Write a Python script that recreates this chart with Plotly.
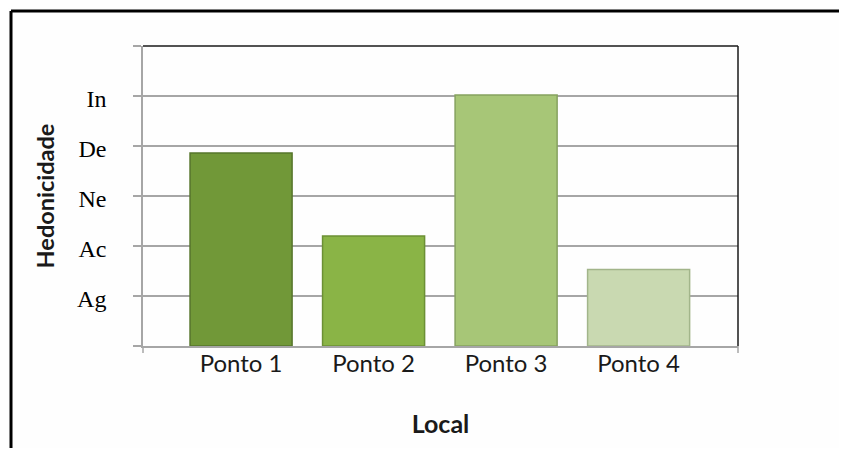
import plotly.graph_objects as go

categories = ["Ponto 1", "Ponto 2", "Ponto 3", "Ponto 4"]
values = [3.86, 2.2, 5.02, 1.53]
tick_values = [0, 1, 2, 3, 4, 5, 6]
tick_labels = ["", "Ag", "Ac", "Ne", "De", "In", ""]
bar_colors = ["#719838", "#8ab446", "#a7c677", "#c9d9b1"]
edge_colors = ["#56752b", "#6c9035", "#86a25f", "#a2b58a"]

OFF = 8  # default page body margin
W, H = 847 - 2 * OFF, 456 - 2 * OFF
# plot-area edges in page pixels
L, R, T, B = 143, 738, 46, 346
pw, ph = R - L, B - T

def px(x):
    return (x - L) / pw

def py(y):
    return (B - y) / ph

fig = go.Figure()
fig.add_trace(go.Bar(
    x=categories, y=values, width=0.77,
    marker=dict(color=bar_colors, line=dict(color=edge_colors, width=1.5)),
    showlegend=False, hoverinfo="x+y",
))

shapes = [
    dict(type="line", xref="paper", yref="paper", x0=0, x1=1, y0=1, y1=1,
         line=dict(color="#1a1a1a", width=1.5)),
    dict(type="line", xref="paper", yref="paper", x0=1, x1=1, y0=0, y1=1,
         line=dict(color="#1a1a1a", width=1.5)),
    dict(type="line", xref="paper", yref="paper", x0=0, x1=0, y0=0, y1=py(353),
         line=dict(color="#a6a6a6", width=1.5)),
    dict(type="line", xref="paper", yref="paper", x0=1, x1=1, y0=0, y1=py(353),
         line=dict(color="#a6a6a6", width=1.5)),
    dict(type="line", xref="paper", yref="paper", x0=px(11), x1=px(11), y0=py(11), y1=py(480),
         line=dict(color="black", width=3)),
    dict(type="line", xref="paper", yref="paper", x0=px(11), x1=px(880), y0=py(11), y1=py(11),
         line=dict(color="black", width=3)),
]

fig.update_layout(
    width=W, height=H,
    margin=dict(l=L - OFF, r=(OFF + W) - R, t=T - OFF, b=(OFF + H) - B),
    paper_bgcolor="#fefefe", plot_bgcolor="#fefefe",
    shapes=shapes,
    xaxis=dict(
        range=[-0.74, 3.75], showgrid=False, zeroline=False,
        showline=True, linecolor="#a6a6a6", linewidth=1.5,
        ticks="", ticklabelstandoff=-5,
        tickfont=dict(family="Lato", size=24, color="#1a1a1a"),
        title=dict(text="<b>Local</b>", font=dict(family="Lato", size=25, color="#1a1a1a"), standoff=40),
        fixedrange=True,
    ),
    yaxis=dict(
        range=[0, 6], tickvals=tick_values, ticktext=tick_labels,
        showgrid=True, gridcolor="#a6a6a6", gridwidth=1.5, zeroline=False,
        showline=True, linecolor="#a6a6a6", linewidth=1.5,
        ticks="outside", ticklen=8, tickcolor="#a6a6a6", tickwidth=1.5,
        ticklabelstandoff=22, ticklabelshift=3,
        tickfont=dict(family="Liberation Serif", size=24, color="black"),
        title=dict(text="<b>Hedonicidade</b>", font=dict(family="Lato", size=23.5, color="#1a1a1a"), standoff=16),
        fixedrange=True,
    ),
)

fig.write_html("out.html")
